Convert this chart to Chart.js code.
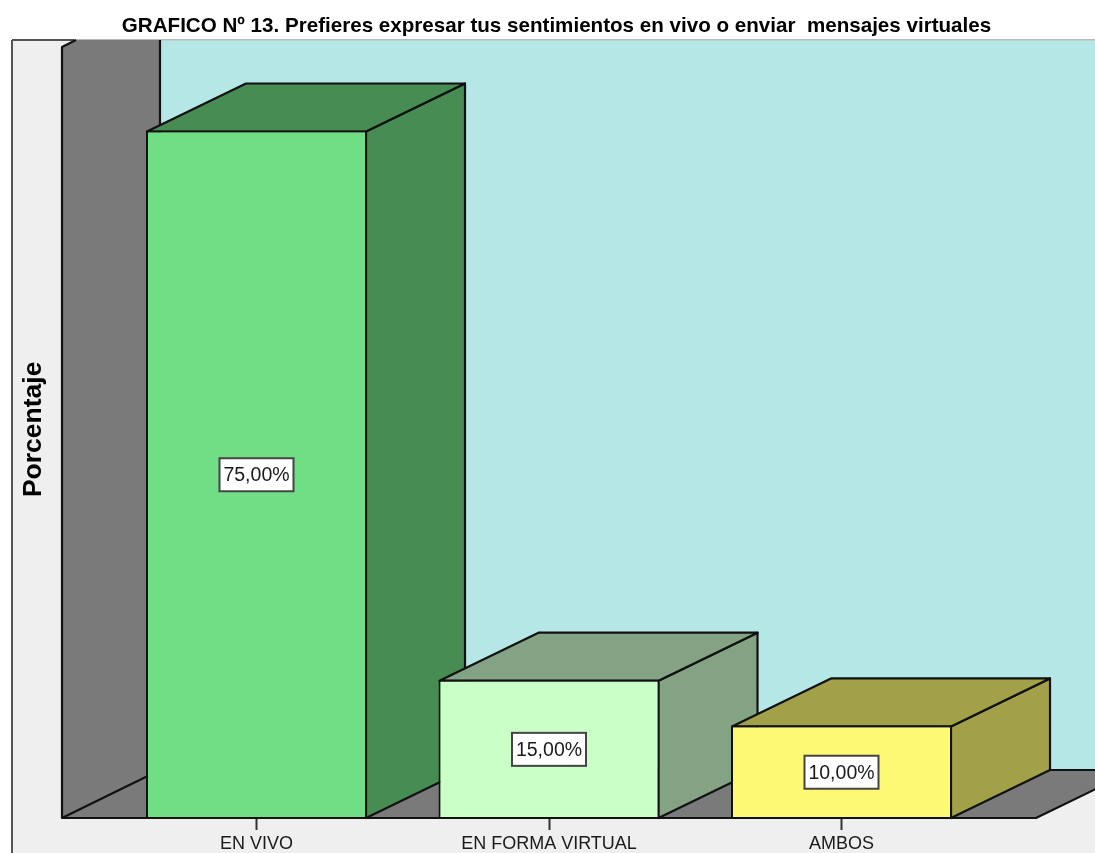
<!DOCTYPE html>
<html><head><meta charset="utf-8">
<style>html,body{margin:0;padding:0;background:#fff}canvas{display:block;filter:blur(0.45px)}</style>
<script src="https://cdn.jsdelivr.net/npm/chart.js@4"></script></head>
<body><canvas id="c" width="1095" height="853"></canvas>
<script>
const categories = ['EN VIVO', 'EN FORMA VIRTUAL', 'AMBOS'];
const percentages = [75, 15, 10];
const valueLabels = ['75,00%', '15,00%', '10,00%'];
const faceColors = ['#70DE85', '#CBFFC8', '#FDF973'];
const sideColors = ['#478C52', '#83A384', '#A3A04A'];
const DEPTH_X = 99, DEPTH_Y = 48, LINE = '#111111';

function poly(ctx, pts, fill, stroke, lw) {
  ctx.beginPath();
  pts.forEach((p, i) => i ? ctx.lineTo(p[0], p[1]) : ctx.moveTo(p[0], p[1]));
  ctx.closePath();
  if (fill) { ctx.fillStyle = fill; ctx.fill(); }
  if (stroke) { ctx.strokeStyle = stroke; ctx.lineWidth = lw || 2; ctx.lineJoin = 'round'; ctx.stroke(); }
}
const scene = {
  id: 'scene',
  afterLayout(chart) {
    chart.titleBlock.left = 18; chart.titleBlock.right = 1095;
  },
  beforeDraw(chart) {
    const { ctx, width, height } = chart;
    const base = 818, wallTop = 40, x0 = 62, floorR = 1036, bx = x0 + DEPTH_X - 1;
    ctx.save();
    ctx.fillStyle = '#fff'; ctx.fillRect(0, 0, width, height);
    ctx.fillStyle = '#EFEFEF'; ctx.fillRect(12, wallTop, width - 12, height - wallTop);
    ctx.fillStyle = '#B5E7E7'; ctx.fillRect(bx, wallTop, width, base - DEPTH_Y - wallTop);
    ctx.fillStyle = '#B9B9B9'; ctx.fillRect(12, wallTop - 1, width, 1.5);
    ctx.fillStyle = '#555'; ctx.fillRect(11, wallTop, 2, height - wallTop);
    ctx.fillStyle = '#555'; ctx.fillRect(12, wallTop - 1, 62, 2);
    // left wall, then floor so its outline stays on top
    poly(ctx, [[x0, base], [x0, 47], [x0 + 14, wallTop], [bx, wallTop], [bx, base - DEPTH_Y]], '#7A7A7A');
    poly(ctx, [[x0, base], [bx, base - DEPTH_Y], [floorR + DEPTH_X, base - DEPTH_Y], [floorR, base]], '#7A7A7A', LINE, 2.2);
    ctx.beginPath(); ctx.moveTo(x0 + 14, wallTop); ctx.lineTo(x0, 47); ctx.lineTo(x0, base);
    ctx.moveTo(bx, wallTop); ctx.lineTo(bx, base - DEPTH_Y);
    ctx.strokeStyle = LINE; ctx.lineWidth = 2.2; ctx.stroke();
    ctx.restore();
  },
  beforeDatasetsDraw(chart) {
    const { ctx } = chart;
    const bars = chart.getDatasetMeta(0).data;
    ctx.save();
    bars.forEach((b, i) => {
      const l = b.x - b.width / 2 + 1, r = b.x + b.width / 2 - 1, t = b.y + 1, bt = 818;
      poly(ctx, [[r, t], [r + DEPTH_X, t - DEPTH_Y], [r + DEPTH_X, bt - DEPTH_Y], [r, bt]], sideColors[i], LINE, 2.2);
      poly(ctx, [[l, t], [l + DEPTH_X, t - DEPTH_Y], [r + DEPTH_X, t - DEPTH_Y], [r, t]], sideColors[i], LINE, 2.2);
    });
    ctx.restore();
  },
  afterDatasetsDraw(chart) {
    const { ctx } = chart;
    const bars = chart.getDatasetMeta(0).data;
    ctx.save();
    ctx.beginPath(); ctx.moveTo(62, 818); ctx.lineTo(1036, 818);
    ctx.strokeStyle = LINE; ctx.lineWidth = 2.2; ctx.stroke();
    bars.forEach((b, i) => {
      const cy = (b.y + 818) / 2 + 0.5, w = 74, h = 33;
      ctx.fillStyle = '#fff'; ctx.fillRect(b.x - w / 2, cy - h / 2, w, h);
      ctx.strokeStyle = '#444'; ctx.lineWidth = 2; ctx.strokeRect(b.x - w / 2, cy - h / 2, w, h);
      ctx.fillStyle = '#1a1a1a'; ctx.font = '19.5px "Liberation Sans"';
      ctx.textAlign = 'center'; ctx.textBaseline = 'middle';
      ctx.fillText(valueLabels[i], b.x, cy + 1);
    });
    ctx.restore();
  }
};
new Chart(document.getElementById('c'), {
  type: 'bar',
  data: { labels: categories, datasets: [{
    data: percentages, backgroundColor: faceColors, borderColor: LINE, borderWidth: 2,
    barPercentage: 0.7556, categoryPercentage: 1
  }] },
  plugins: [scene],
  options: {
    responsive: false, animation: false,
    layout: { padding: { left: 18, right: 107.25, top: 0, bottom: 0 } },
    plugins: {
      legend: { display: false }, tooltip: { enabled: false },
      title: {
        display: true, fullSize: false,
        text: 'GRAFICO Nº 13. Prefieres expresar tus sentimientos en vivo o enviar  mensajes virtuales',
        color: '#000', font: { family: '"Liberation Sans"', size: 20.6, weight: 'bold' },
        padding: { top: 14, bottom: 3 }
      }
    },
    scales: {
      x: {
        grid: { offset: false, drawOnChartArea: false, drawTicks: true, tickLength: 13, tickColor: '#333', tickWidth: 2 },
        border: { display: false },
        ticks: { color: '#1a1a1a', font: { family: '"Liberation Sans"', size: 18 }, padding: 3, maxRotation: 0 },
        afterFit(s) { s.height = 36; }
      },
      y: {
        min: 0, max: 84.7,
        grid: { display: false }, border: { display: false },
        ticks: { display: false },
        title: { display: true, text: 'Porcentaje', color: '#000', font: { family: '"Liberation Sans"', size: 26.5, weight: 'bold' }, padding: 0 },
        afterFit(s) { s.width = 92.25; }
      }
    }
  }
});
</script></body></html>
